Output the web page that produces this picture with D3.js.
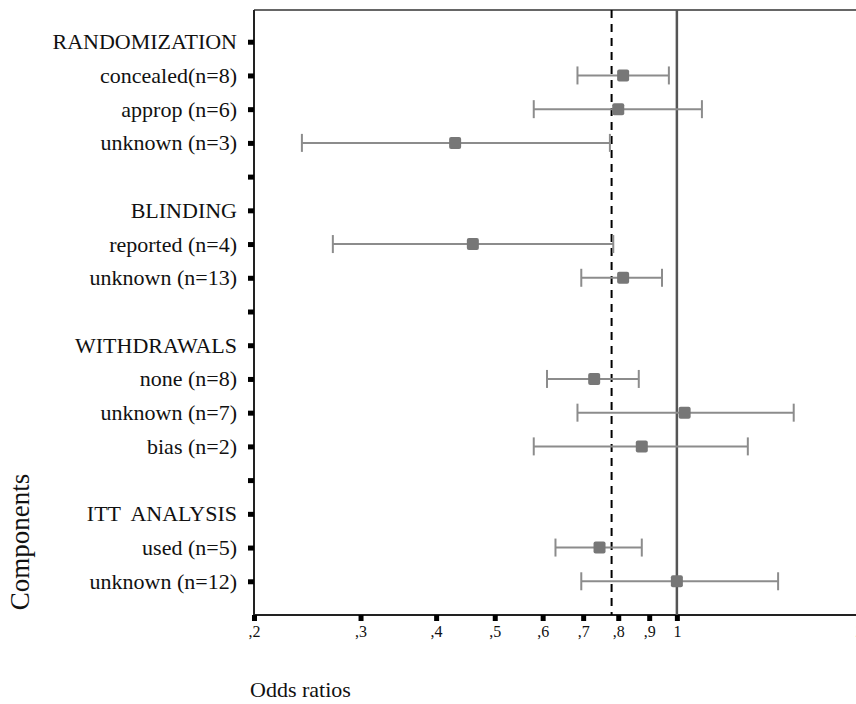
<!DOCTYPE html>
<html>
<head>
<meta charset="utf-8">
<script src="https://cdn.jsdelivr.net/npm/d3@7/dist/d3.min.js"></script>
<style>
  body { margin: 0; background: #fff; }
  svg { display: block; font-family: "Liberation Serif", "DejaVu Serif", serif; }
</style>
</head>
<body>
<div class="graph"></div>
<script>
// rows from top to bottom, "" = blank spacer row
const rowLabels = ['RANDOMIZATION', 'concealed(n=8)', 'approp (n=6)', 'unknown (n=3)', '',
    'BLINDING', 'reported (n=4)', 'unknown (n=13)', '',
    'WITHDRAWALS', 'none (n=8)', 'unknown (n=7)', 'bias (n=2)', '',
    'ITT  ANALYSIS', 'used (n=5)', 'unknown (n=12)'];

// odds ratio estimates with 95% CI (row number = position in rowLabels + 1)
const rowIdx = [2, 3, 4, 7, 8, 11, 12, 13, 16, 17];
const oddsRatio = [0.815, 0.80, 0.43, 0.46, 0.815, 0.73, 1.03, 0.875, 0.745, 1.0];
const ciLow = [0.685, 0.58, 0.24, 0.27, 0.695, 0.61, 0.685, 0.58, 0.63, 0.695];
const ciHigh = [0.97, 1.10, 0.775, 0.785, 0.945, 0.865, 1.56, 1.31, 0.875, 1.47];

const xTicks = [0.2, 0.3, 0.4, 0.5, 0.6, 0.7, 0.8, 0.9, 1, 2];
const pooledOR = 0.78;

const W = 856, H = 704;
const svg = d3.select('.graph').append('svg').attr('width', W).attr('height', H);

const x = d3.scaleLog().domain([0.2, 2]).range([254, 859]);
const y = d3.scaleLinear().domain([0, 18]).range([8, 615]);

const data = rowIdx.map((r, i) => ({ r, or: oddsRatio[i], lo: ciLow[i], hi: ciHigh[i] }));

// frame
svg.append('line').attr('x1', x(0.2)).attr('x2', W).attr('y1', 10).attr('y2', 10)
    .attr('stroke', '#333').attr('stroke-width', 1.5);
svg.append('line').attr('x1', x(0.2)).attr('x2', x(0.2)).attr('y1', 10).attr('y2', y(18))
    .attr('stroke', '#222').attr('stroke-width', 2);
svg.append('line').attr('x1', x(0.2)).attr('x2', W).attr('y1', y(18)).attr('y2', y(18))
    .attr('stroke', '#222').attr('stroke-width', 2);

// reference lines
svg.append('line').attr('x1', x(1)).attr('x2', x(1)).attr('y1', 10).attr('y2', y(18))
    .attr('stroke', '#555').attr('stroke-width', 2.5);
svg.append('line').attr('x1', x(pooledOR)).attr('x2', x(pooledOR)).attr('y1', 10).attr('y2', y(18))
    .attr('stroke', '#000').attr('stroke-width', 2).attr('stroke-dasharray', '8,6');

// x axis
const xAxis = d3.axisBottom(x).tickValues(xTicks).tickSize(6).tickPadding(5)
    .tickFormat(d => d === 1 ? '1' : d === 2 ? '2' : ',' + Math.round(d * 10));
const gx = svg.append('g').attr('transform', `translate(0,${y(18)})`).call(xAxis);
gx.select('.domain').remove();
gx.selectAll('.tick line').attr('stroke', '#000').attr('stroke-width', 5);
gx.selectAll('.tick text').attr('font-size', 16).attr('fill', '#111')
    .attr('font-family', '"Liberation Serif", serif');

// y axis
const yAxis = d3.axisLeft(y).tickValues(d3.range(1, 18)).tickSize(6).tickPadding(11)
    .tickFormat(d => rowLabels[d - 1]);
const gy = svg.append('g').attr('transform', `translate(${x(0.2)},0)`).call(yAxis);
gy.select('.domain').remove();
gy.selectAll('.tick line').attr('stroke', '#000').attr('stroke-width', 5);
gy.selectAll('.tick text').attr('font-size', 22).attr('fill', '#111')
    .attr('font-family', '"Liberation Serif", serif')
    .style('white-space', 'pre');

// confidence intervals
const ci = svg.append('g').attr('stroke', '#8c8c8c').attr('stroke-width', 2);
ci.selectAll('.ci').data(data).enter().append('line')
    .attr('x1', d => x(d.lo)).attr('x2', d => x(d.hi))
    .attr('y1', d => y(d.r)).attr('y2', d => y(d.r));
ci.selectAll('.capL').data(data).enter().append('line')
    .attr('x1', d => x(d.lo)).attr('x2', d => x(d.lo))
    .attr('y1', d => y(d.r) - 9).attr('y2', d => y(d.r) + 9);
ci.selectAll('.capH').data(data).enter().append('line')
    .attr('x1', d => x(d.hi)).attr('x2', d => x(d.hi))
    .attr('y1', d => y(d.r) - 9).attr('y2', d => y(d.r) + 9);

// point estimates
svg.selectAll('.pt').data(data).enter().append('rect')
    .attr('x', d => x(d.or) - 6).attr('y', d => y(d.r) - 6)
    .attr('width', 12).attr('height', 12).attr('rx', 2)
    .attr('fill', '#777');

// axis titles
svg.append('text').attr('transform', 'translate(29,542) rotate(-90)')
    .attr('text-anchor', 'middle').attr('font-size', 27).attr('fill', '#111')
    .text('Components');
svg.append('text').attr('x', 250).attr('y', 697)
    .attr('font-size', 22).attr('fill', '#111').text('Odds ratios');
</script>
</body>
</html>
